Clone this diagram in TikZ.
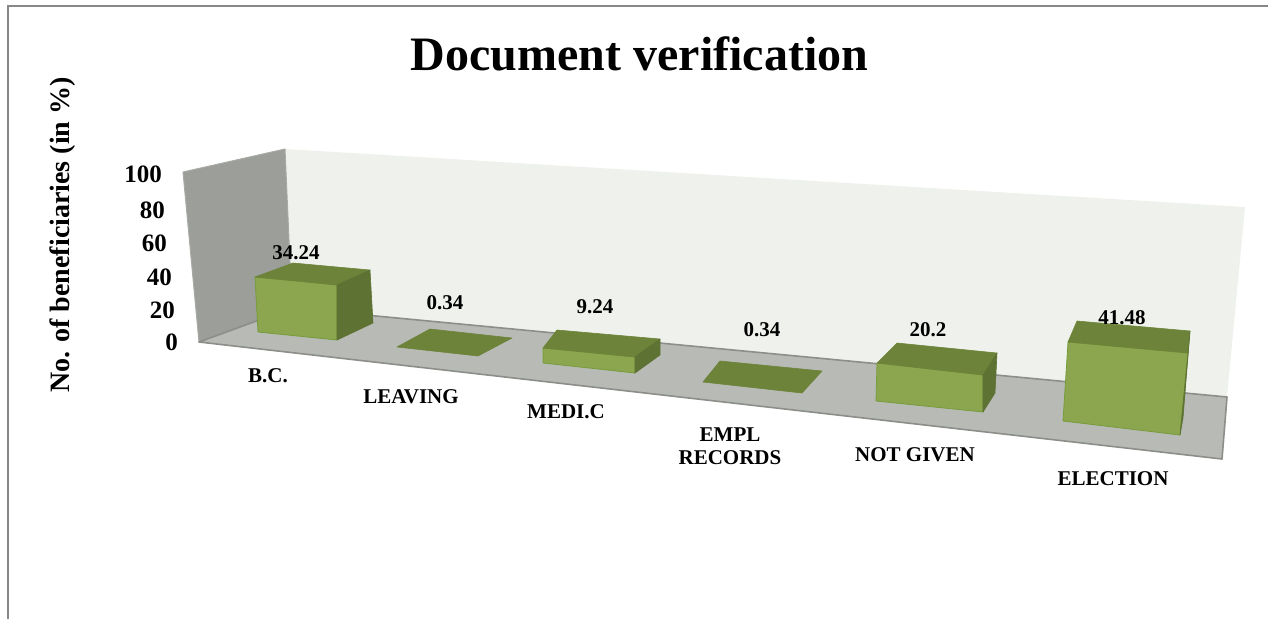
\documentclass[tikz,border=0pt]{standalone}
\usepackage{fontspec}
\setmainfont{Liberation Serif}
\begin{document}
\begin{tikzpicture}[x=1pt,y=-1pt,
  frameline/.style={draw=black!47, line width=2pt},
  sidewall/.style={fill=black!38!white!92!green, draw=black!42, line width=1pt},
  backwall/.style={fill=green!3!black!5!white},
  floorpl/.style={fill=black!27!white!96!green, draw=black!45, line width=1.5pt},
  barfront/.style={fill=green!45!black!45!yellow!55!gray, draw=green!45!black!55!yellow!60!gray, line width=0.8pt, line join=round},
  bartop/.style={fill=green!40!black!60!yellow!60!gray, draw=green!40!black!60!yellow!60!gray, line width=0.6pt, line join=round},
  barside/.style={fill=green!35!black!68!yellow!62!gray, draw=green!35!black!68!yellow!62!gray, line width=0.6pt, line join=round},
  ttl/.style={font=\fontsize{48}{56}\selectfont\bfseries, inner sep=0pt, anchor=base},
  ytl/.style={font=\fontsize{28}{32}\selectfont\bfseries, inner sep=0pt, rotate=90},
  tick/.style={font=\fontsize{25}{28}\selectfont\bfseries, inner sep=0pt, anchor=east},
  cat/.style={font=\fontsize{21}{23}\selectfont\bfseries, inner sep=0pt, align=center},
  val/.style={font=\fontsize{21}{23}\selectfont\bfseries, inner sep=0pt}
]
\definecolor{bfront}{HTML}{8BA64F}
\definecolor{btop}{HTML}{6C8339}
\definecolor{bside}{HTML}{5D7233}
\definecolor{bedge}{HTML}{779C3C}
\tikzset{
  barfront/.style={fill=bfront, draw=bedge, line width=0.8pt, line join=round},
  bartop/.style={fill=btop, draw=btop, line width=0.6pt, line join=round},
  barside/.style={fill=bside, draw=bside, line width=0.6pt, line join=round},
  sidewall/.style={fill=sidegray, draw=sideedge, line width=1pt, line join=round},
  backwall/.style={fill=backcol},
  floorpl/.style={fill=floorcol, draw=flooredge, line width=1.6pt, line join=round}
}
\definecolor{sidegray}{HTML}{9C9E9A}
\definecolor{sideedge}{HTML}{A8AAA6}
\definecolor{backcol}{HTML}{EFF2EC}
\definecolor{floorcol}{HTML}{B8BAB5}
\definecolor{flooredge}{HTML}{8C8E8A}
\useasboundingbox (0,0) rectangle (1268,619);
\fill[white] (0,0) rectangle (1268,619);
% outer frame
\draw[frameline] (8,619) -- (8,6) -- (1268,6);
% walls and floor
\path[backwall] (285,149) -- (1245,207) -- (1227,397) -- (292,308) -- cycle;
\path[sidewall] (183,172) -- (285,149) -- (292,308) -- (199,342) -- cycle;
\path[floorpl] (199,342) -- (292,308) -- (1227,397) -- (1222,459) -- cycle;
% bar 1 B.C.
\path[barfront] (255,277) -- (337,285) -- (337,340) -- (258,332) -- cycle;
\path[bartop] (255,277) -- (293,263) -- (370,270) -- (337,285) -- cycle;
\path[barside] (337,285) -- (370,270) -- (373,323) -- (337,340) -- cycle;
% bar 2 LEAVING
\path[bartop] (397,347) -- (430,329) -- (512,338) -- (478,356) -- cycle;
% bar 3 MEDI.C
\path[barfront] (543,348) -- (635,357) -- (635,373) -- (543,363) -- cycle;
\path[bartop] (543,348) -- (557,330) -- (660,339) -- (635,357) -- cycle;
\path[barside] (635,357) -- (660,339) -- (660,355) -- (635,373) -- cycle;
% bar 4 EMPL RECORDS
\path[bartop] (703,382) -- (720,361) -- (822,371) -- (802,393) -- cycle;
% bar 5 NOT GIVEN
\path[barfront] (877,363) -- (983,375) -- (983,412) -- (876,401) -- cycle;
\path[bartop] (877,363) -- (897,343) -- (997,353) -- (983,375) -- cycle;
\path[barside] (983,375) -- (997,353) -- (995,393) -- (983,412) -- cycle;
% bar 6 ELECTION
\path[barfront] (1068,342) -- (1188,353) -- (1180,435) -- (1063,421) -- cycle;
\path[bartop] (1068,342) -- (1077,321) -- (1190,331) -- (1188,353) -- cycle;
\path[barside] (1188,353) -- (1190,331) -- (1183,418) -- (1180,435) -- cycle;
% title
\node[ttl] (title) at (639.5,70) {Document verification};
\node[ytl] (ytitle) at (63,235) {No. of beneficiaries (in \%)};
% ticks
\node[tick] (t100) at (162,174) {100};
\node[tick] (t80) at (165,210) {80};
\node[tick] (t60) at (167,243) {60};
\node[tick] (t40) at (172,277) {40};
\node[tick] (t20) at (175,310) {20};
\node[tick] (t0) at (178,342) {0};
% categories
\node[cat] (c1) at (268,376) {B.C.};
\node[cat] (c2) at (411,397) {LEAVING};
\node[cat] (c3) at (566,412) {MEDI.C};
\node[cat] (c4) at (730,446) {EMPL\\RECORDS};
\node[cat] (c5) at (915,455) {NOT GIVEN};
\node[cat] (c6) at (1113,479) {ELECTION};
% values
\node[val] (v1) at (296,253) {34.24};
\node[val] (v2) at (445,303) {0.34};
\node[val] (v3) at (595,307) {9.24};
\node[val] (v4) at (762,330) {0.34};
\node[val] (v5) at (928,330) {20.2};
\node[val] (v6) at (1122,318) {41.48};
\end{tikzpicture}
\end{document}
